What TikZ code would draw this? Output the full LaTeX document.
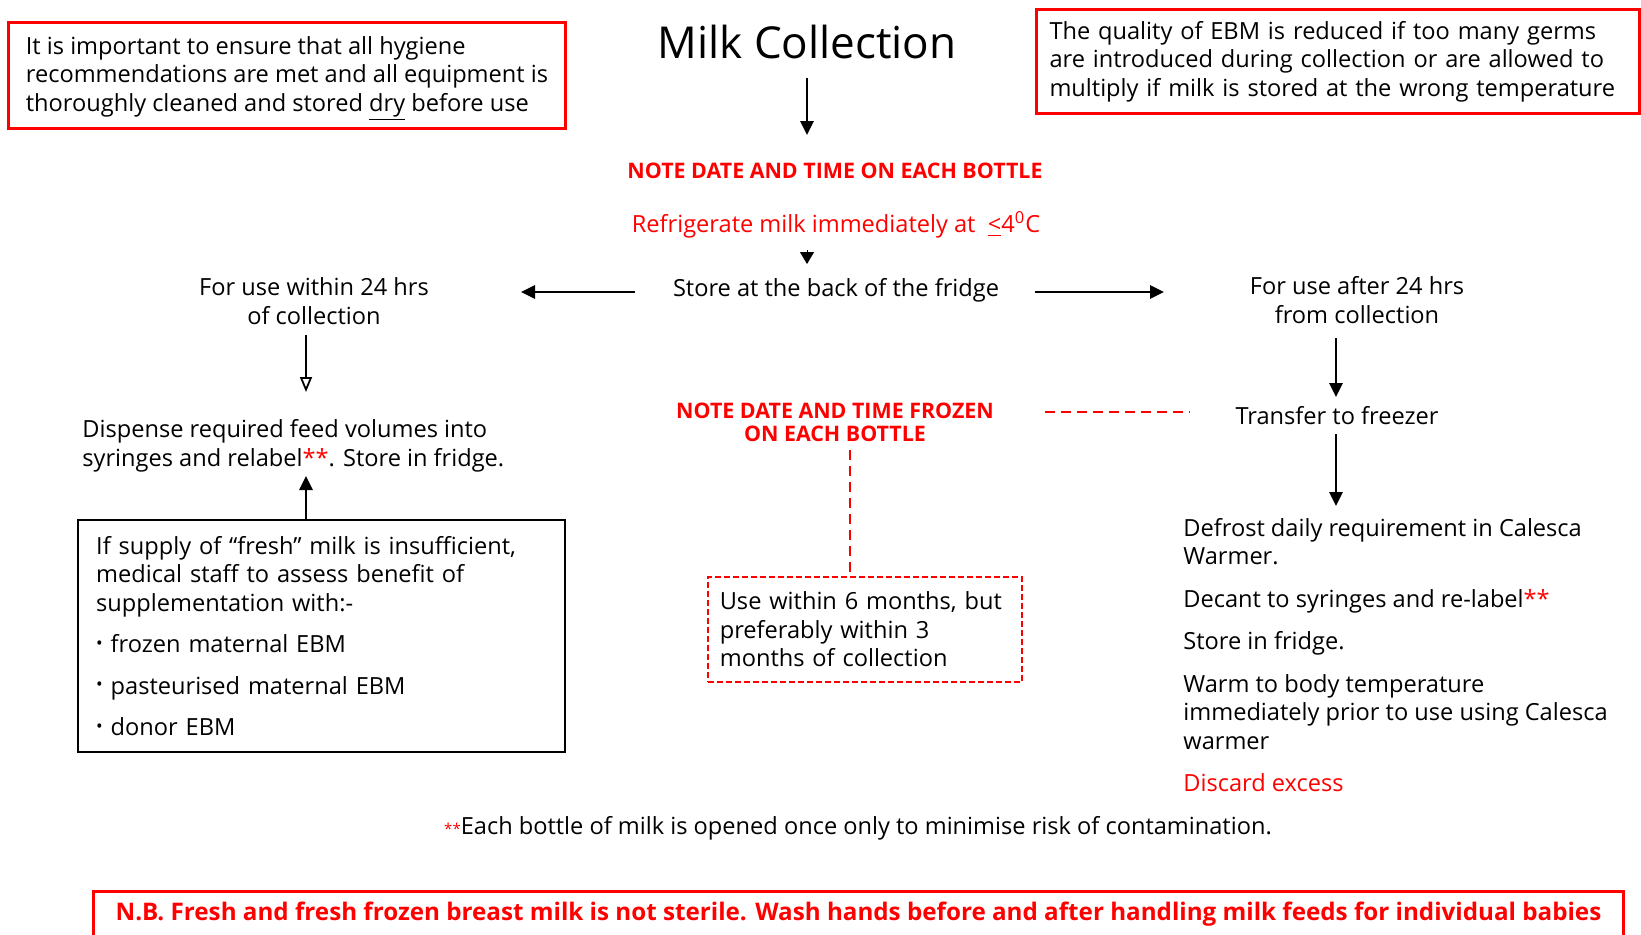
\documentclass[tikz,border=0pt]{standalone}
\usepackage{fontspec}
\setmainfont{Open Sans}
\usetikzlibrary{arrows.meta}
\definecolor{nred}{RGB}{255,0,0}
\newcommand{\blt}{\raisebox{0.15em}{\scalebox{0.75}{\textbullet}}\ }
\begin{document}
\begin{tikzpicture}[x=0.5pt,y=-0.5pt,
  body/.style={font=\fontsize{11.8}{14.25}\selectfont, inner sep=0pt, align=left},
  bodyc/.style={font=\fontsize{11.8}{14.25}\selectfont, inner sep=0pt, align=center},
  capsred/.style={font=\fontsize{10.7}{11.5}\selectfont\bfseries, text=nred, inner sep=0pt, align=center},
  redbox/.style={draw=nred, line width=1.5pt, body, inner xsep=6.5pt, inner ysep=0pt, anchor=north west},
  blackbox/.style={draw=black, line width=1.2pt, body, inner xsep=9pt, inner ysep=0pt, anchor=north west},
  dashbox/.style={draw=nred, line width=0.8pt, dash pattern=on 3pt off 1.5pt, body, inner xsep=6pt, inner ysep=0pt, anchor=north west},
  arr/.style={line width=1.4pt, -{Triangle[length=7pt,width=6.5pt]}},
  oarr/.style={line width=0.9pt, -{Triangle[open,length=7.5pt,width=6pt,fill=white]}},
  rdash/.style={nred, line width=1.2pt, dash pattern=on 5pt off 3pt}
]
\useasboundingbox (0,0) rectangle (1641,934);

% top boxes
\node[redbox, minimum width=278.5pt, minimum height=53pt] (hyg) at (7,21)
 {\rule{0pt}{12pt}It is important to ensure that all hygiene\\recommendations are met and all equipment is\\thoroughly cleaned and stored \underline{dry} before use};
\node[redbox, text width=288.5pt, minimum width=301.5pt, minimum height=52pt] (qual) at (1035,8)
 {The quality of EBM is reduced if too many germs\\are introduced during collection or are allowed to\\multiply if milk is stored at the wrong temperature};

% title
\node[font=\fontsize{22}{26}\selectfont, inner sep=0pt] (title) at (807,42) {Milk Collection};
\coordinate (t1) at (807,78);
\coordinate (t2) at (807,135);
\draw[arr] (t1) -- (t2);

\node[capsred] (note1) at (835,171) {NOTE DATE AND TIME ON EACH BOTTLE};
\node[bodyc, text=nred] (refr) at (836,225) {Refrigerate milk immediately at \ \underline{<}4\textsuperscript{0}C};
\coordinate (r1) at (807,250);
\coordinate (r2) at (807,264);
\draw[line width=0.5pt, -{Triangle[length=6pt,width=7pt]}] (r1) -- (r2);

\node[bodyc] (store) at (836,290) {Store at the back of the fridge};
\coordinate (sl) at (635,292);
\coordinate (sr) at (1035,292);

\node[bodyc] (within) at (314,301) {For use within 24 hrs\\of collection};
\node[bodyc] (after) at (1357,300) {For use after 24 hrs\\from collection};
\coordinate (wl) at (521,292);
\coordinate (ar) at (1164,292);
\draw[arr] (sl) -- (wl);
\draw[arr] (sr) -- (ar);

% left branch
\coordinate (w1) at (306,335);
\coordinate (w2) at (306,392);
\draw[oarr] (w1) -- (w2);
\node[body, anchor=west] (disp) at (82,446) {Dispense required feed volumes into\\syringes and relabel\textcolor{nred}{**}. Store in fridge.};

\node[blackbox, text width=225.5pt, minimum width=243.5pt, minimum height=116pt] (supp) at (77,519)
 {If supply of ``fresh'' milk is insufficient,\\medical staff to assess benefit of\\supplementation with:-\\[6.5pt]
  \blt frozen maternal EBM\\[6.5pt]
  \blt pasteurised maternal EBM\\[6.5pt]
  \blt donor EBM};
\coordinate (s1) at (306,476);
\draw[arr] (supp.north -| s1) -- (s1);

% middle
\node[capsred] (note2) at (835,422) {NOTE DATE AND TIME FROZEN\\ON EACH BOTTLE};
\node[dashbox, text width=145pt, minimum width=157pt, minimum height=52.5pt] (six) at (707,576)
 {Use within 6 months, but\\preferably within 3\\months of collection};
\coordinate (n1) at (850,450);
\draw[rdash] (n1) -- (six.north -| n1);

% right branch
\coordinate (a1) at (1336,338);
\coordinate (a2) at (1336,397);
\draw[arr] (a1) -- (a2);
\node[bodyc] (freez) at (1337,416) {Transfer to freezer};
\coordinate (d1) at (1045,412);
\coordinate (d2) at (1190,412);
\draw[rdash] (d1) -- (d2);
\coordinate (f1) at (1336,434);
\coordinate (f2) at (1336,506);
\draw[arr] (f1) -- (f2);

\node[body, anchor=north west] (steps) at (1183,518)
 {Defrost daily requirement in Calesca\\Warmer.\\[7pt]
  Decant to syringes and re-label\textcolor{nred}{**}\\[7pt]
  Store in fridge.\\[7pt]
  Warm to body temperature\\immediately prior to use using Calesca\\warmer\\[7pt]
  \textcolor{nred}{Discard excess}};

\node[bodyc] (foot) at (858,828) {\textcolor{nred}{\fontsize{7.5}{8}\selectfont**}Each bottle of milk is opened once only to minimise risk of contamination.};

\node[draw=nred, line width=1.5pt, anchor=north west, minimum width=765pt, minimum height=23pt, inner sep=0pt,
  font=\fontsize{12.1}{14}\selectfont\bfseries, text=nred] (nb) at (92,890)
 {N.B. Fresh and fresh frozen breast milk is not sterile. Wash hands before and after handling milk feeds for individual babies};
\end{tikzpicture}
\end{document}
